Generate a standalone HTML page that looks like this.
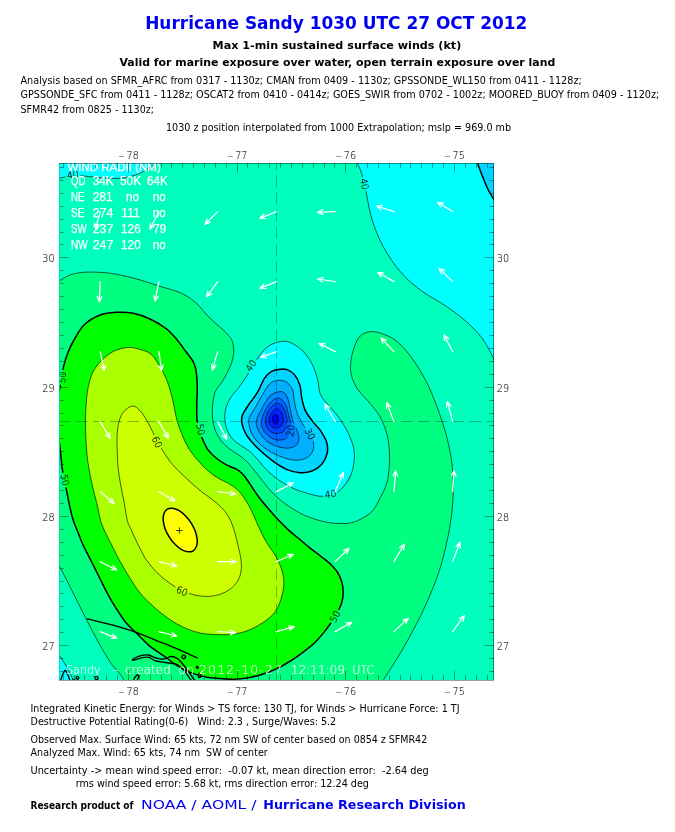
<!DOCTYPE html>
<html lang="en"><head><meta charset="utf-8"><title>Hurricane Sandy 1030 UTC 27 OCT 2012</title>
<style>html,body{margin:0;padding:0;background:#fff}svg{display:block}</style></head>
<body>
<svg width="675" height="832" viewBox="0 0 675 832">
<defs><clipPath id="pc"><rect x="59.6" y="163" width="434.4" height="517"/></clipPath></defs>
<rect x="0" y="0" width="675" height="832" fill="#fff"/>
<rect x="59" y="163" width="435" height="517" fill="#00ffbc"/>
<g clip-path="url(#pc)">
<path d="M52.0 179.5C53.2 179.3 57.1 178.9 59.4 178.4C61.7 177.9 63.5 177.2 65.7 176.7C67.9 176.2 70.1 175.7 72.8 175.5C75.5 175.3 77.3 175.5 81.7 175.8C86.1 176.2 93.5 177.2 99.4 177.6C105.3 178.0 112.2 178.6 117.2 178.4C122.2 178.2 125.8 177.6 129.7 176.7C133.5 175.8 137.1 174.6 140.3 173.1C143.6 171.6 146.5 169.4 149.2 167.8C151.9 166.2 154.2 164.8 156.3 163.3C158.4 161.8 161.1 159.7 162.0 159.0L52.0 150.0Z" fill="#00ffff"/>
<path d="M355.0 156.0C355.4 157.3 356.7 161.1 357.7 163.7C358.7 166.3 359.9 168.4 361.0 171.7C362.1 175.0 363.4 179.4 364.3 183.3C365.2 187.2 365.8 190.3 366.7 195.0C367.6 199.7 368.6 206.1 370.0 211.7C371.4 217.2 372.8 222.5 375.0 228.3C377.2 234.1 380.0 240.6 383.3 246.7C386.6 252.8 390.8 259.4 395.0 265.0C399.2 270.6 403.3 275.3 408.3 280.0C413.3 284.7 419.4 289.4 425.0 293.3C430.6 297.2 436.1 299.7 441.7 303.3C447.2 306.9 453.3 311.1 458.3 315.0C463.3 318.9 467.5 322.5 471.7 326.7C475.9 330.9 479.7 334.8 483.3 340.0C486.9 345.2 490.7 352.7 493.5 358.0C496.3 363.3 498.9 369.7 500.0 372.0L500.0 150.0Z" fill="#00ffff"/>
<path d="M52.0 643.0C53.2 645.0 56.5 651.0 59.0 655.0C61.5 659.0 64.3 662.5 66.7 666.7C69.1 670.9 71.6 676.5 73.3 680.0C75.0 683.5 76.4 686.7 77.0 688.0L52.0 688.0Z" fill="#00ffff"/>
<path d="M475.0 156.0C475.4 157.3 476.3 160.0 477.7 163.7C479.1 167.4 481.5 173.9 483.3 178.3C485.1 182.7 486.6 186.7 488.3 190.0C490.0 193.3 491.5 195.5 493.3 198.3C495.1 201.1 498.1 205.6 499.0 207.0L500.0 150.0Z" fill="#00d4ff"/>
<path d="M275.0 343.0C278.8 341.8 283.6 340.5 288.0 341.7C292.4 342.9 297.8 346.4 301.7 350.0C305.6 353.6 309.0 358.3 311.7 363.3C314.4 368.3 316.3 375.0 317.7 380.0C319.1 385.0 318.5 389.4 320.0 393.3C321.5 397.2 323.6 399.4 326.7 403.3C329.8 407.2 334.7 411.7 338.3 416.7C341.9 421.7 345.7 427.8 348.3 433.3C350.9 438.9 353.2 444.4 354.0 450.0C354.8 455.6 354.2 461.7 353.3 466.7C352.4 471.7 350.8 475.8 348.3 480.0C345.8 484.2 341.4 489.3 338.3 491.7C335.2 494.1 333.1 493.7 330.0 494.5C326.9 495.3 323.9 496.5 320.0 496.3C316.1 496.1 310.7 494.2 306.7 493.1C302.7 492.0 299.6 491.1 296.0 489.6C292.4 488.1 288.9 486.3 285.3 484.2C281.8 482.1 278.0 479.7 274.7 477.1C271.4 474.5 268.5 471.9 265.5 468.8C262.5 465.7 259.4 461.4 256.7 458.5C254.0 455.6 252.0 453.3 249.3 451.1C246.6 448.9 243.4 447.4 240.4 445.2C237.4 443.0 233.8 440.8 231.5 437.8C229.2 434.8 227.4 430.9 226.3 427.4C225.2 423.9 224.8 420.4 224.8 417.0C224.8 413.6 225.2 410.1 226.3 406.7C227.4 403.2 229.4 399.5 231.5 396.3C233.6 393.1 236.2 391.0 238.9 387.4C241.6 383.8 244.4 379.6 247.5 374.9C250.6 370.1 254.4 363.2 257.3 358.9C260.2 354.6 262.1 351.6 265.0 349.0C267.9 346.4 271.2 344.2 275.0 343.0Z" fill="#00ffff"/>
<path d="M280.4 369.2C277.7 369.4 274.3 369.8 271.6 371.3C268.9 372.8 266.8 374.8 264.4 378.4C262.0 382.0 260.0 388.2 257.3 392.7C254.6 397.1 250.9 401.2 248.4 405.1C245.9 409.0 243.2 412.5 242.2 415.8C241.2 419.1 241.4 421.4 242.2 424.7C242.9 427.9 244.2 431.4 246.7 435.3C249.2 439.2 253.2 443.7 257.3 447.8C261.5 451.9 266.9 456.6 271.6 460.2C276.4 463.8 281.1 467.0 285.8 469.1C290.5 471.2 295.6 472.4 300.0 472.7C304.4 473.0 308.7 472.4 312.4 470.9C316.1 469.4 319.7 466.8 322.2 463.8C324.7 460.8 326.4 456.7 327.2 453.1C327.9 449.5 327.7 445.9 326.7 442.4C325.7 438.8 323.7 435.4 321.3 431.8C318.9 428.2 315.1 424.7 312.4 421.1C309.7 417.5 307.1 414.2 305.3 410.4C303.5 406.5 302.7 402.1 301.8 398.0C300.9 393.9 301.2 389.5 300.0 385.6C298.8 381.8 296.8 377.5 294.7 374.9C292.6 372.3 290.0 370.8 287.6 369.9C285.2 368.9 283.1 369.0 280.4 369.2Z" fill="#00d4ff"/>
<path d="M278.7 380.2C275.7 380.4 272.5 381.4 269.8 383.8C267.1 386.2 265.1 390.5 262.7 394.4C260.3 398.2 257.8 403.0 255.6 406.9C253.4 410.8 250.4 414.4 249.3 417.6C248.2 420.9 248.6 423.1 249.3 426.4C250.1 429.6 251.3 433.5 253.8 437.1C256.3 440.7 260.2 444.7 264.4 447.8C268.5 450.9 273.6 453.7 278.7 455.8C283.8 457.9 290.0 459.9 294.7 460.2C299.4 460.5 304.0 459.4 307.1 457.6C310.2 455.8 312.4 452.7 313.3 449.6C314.2 446.5 313.7 442.5 312.4 438.9C311.1 435.3 307.7 432.0 305.3 428.2C302.9 424.4 300.0 419.9 298.2 415.8C296.4 411.7 295.6 407.5 294.7 403.3C293.8 399.1 294.1 394.3 292.9 390.9C291.7 387.5 290.0 384.7 287.6 382.9C285.2 381.1 281.7 380.0 278.7 380.2Z" fill="#00b0ff"/>
<path d="M278.7 391.8C276.3 392.4 272.8 393.1 269.8 396.2C266.8 399.3 263.1 406.2 260.9 410.4C258.7 414.5 256.8 417.8 256.4 421.1C255.9 424.4 256.6 426.7 258.2 430.0C259.8 433.3 262.8 437.9 266.2 440.7C269.6 443.5 274.5 445.7 278.7 446.9C282.9 448.1 287.9 448.6 291.1 447.8C294.4 447.1 297.0 444.8 298.2 442.4C299.4 440.0 299.1 437.2 298.2 433.6C297.3 430.1 294.2 425.2 292.9 421.1C291.6 417.0 291.1 412.6 290.2 408.7C289.3 404.8 288.6 400.7 287.6 398.0C286.6 395.3 285.5 393.7 284.0 392.7C282.5 391.7 281.1 391.2 278.7 391.8Z" fill="#008cff"/>
<path d="M277.8 398.0C275.3 398.0 272.2 400.6 269.8 403.3C267.4 406.0 265.0 410.7 263.6 414.0C262.2 417.3 261.3 419.9 261.4 422.9C261.5 425.9 262.4 429.1 264.4 431.8C266.4 434.5 270.3 437.6 273.3 438.9C276.3 440.2 279.5 440.4 282.2 439.8C284.9 439.2 287.8 437.5 289.3 435.3C290.8 433.1 291.2 429.9 291.1 426.4C291.0 422.8 289.4 417.9 288.4 414.0C287.4 410.1 286.7 406.0 284.9 403.3C283.1 400.6 280.3 398.0 277.8 398.0Z" fill="#0066ff"/>
<path d="M276.9 403.3C274.8 403.8 271.6 406.3 269.8 408.7C268.0 411.1 266.5 414.9 265.9 417.6C265.2 420.3 265.2 422.5 265.9 424.7C266.5 426.9 268.0 429.4 269.8 430.9C271.6 432.4 274.5 433.6 276.9 433.6C279.3 433.6 282.3 432.7 284.0 430.9C285.7 429.1 286.9 425.7 287.2 422.9C287.5 420.1 286.6 416.8 285.8 414.0C285.0 411.2 283.7 407.8 282.2 406.0C280.7 404.2 279.0 402.9 276.9 403.3Z" fill="#0044ff"/>
<path d="M276.5 408.7C274.9 408.9 272.9 411.2 271.6 413.1C270.3 415.0 269.0 418.1 268.9 420.2C268.8 422.3 269.5 424.3 270.7 425.6C271.9 426.9 274.2 428.2 276.0 428.2C277.8 428.2 280.1 427.1 281.3 425.6C282.6 424.1 283.5 421.5 283.5 419.3C283.5 417.1 282.5 414.0 281.3 412.2C280.1 410.4 278.1 408.5 276.5 408.7Z" fill="#0022ff"/>
<path d="M275.6 414.0C274.8 414.0 273.5 415.1 273.0 416.0C272.5 416.9 272.6 418.4 272.6 419.5C272.6 420.6 272.7 421.8 273.2 422.5C273.7 423.2 274.8 424.0 275.6 424.0C276.4 424.0 277.5 423.3 278.0 422.5C278.5 421.7 278.6 420.1 278.6 419.0C278.6 417.9 278.5 416.8 278.0 416.0C277.5 415.2 276.4 414.0 275.6 414.0Z" fill="#0000ff"/>
<path d="M50.0 285.0C51.5 284.3 55.7 282.7 59.0 281.0C62.3 279.3 66.0 276.4 70.0 275.0C74.0 273.6 78.3 272.8 83.3 272.3C88.3 271.9 94.4 272.0 100.0 272.3C105.6 272.6 110.6 273.2 116.7 274.3C122.8 275.4 129.5 277.0 136.7 279.0C143.9 281.0 153.9 284.4 160.0 286.3C166.1 288.2 169.8 289.1 173.5 290.3C177.2 291.5 179.2 292.2 182.0 293.6C184.8 295.0 187.6 296.4 190.4 298.4C193.2 300.4 196.2 303.0 198.8 305.6C201.4 308.2 203.4 311.2 206.0 314.0C208.6 316.8 211.6 319.8 214.4 322.4C217.2 325.0 220.3 327.1 222.9 329.6C225.5 332.1 228.4 335.0 230.1 337.4C231.8 339.8 232.5 341.5 233.1 344.0C233.7 346.5 233.9 349.5 233.7 352.5C233.5 355.5 232.9 358.8 231.9 362.0C230.9 365.2 229.4 368.3 227.7 371.7C226.0 375.1 223.8 379.1 221.7 382.5C219.6 385.9 216.7 387.9 215.2 391.9C213.7 395.9 212.9 401.8 212.5 406.7C212.1 411.6 212.4 417.3 213.0 421.5C213.6 425.7 214.6 428.7 215.9 431.9C217.2 435.1 219.0 438.0 221.1 440.7C223.2 443.4 225.8 445.9 228.5 448.1C231.2 450.3 234.9 452.4 237.4 454.1C239.9 455.8 241.3 456.8 243.3 458.5C245.3 460.2 247.1 461.9 249.3 464.4C251.5 466.9 254.2 470.2 256.7 473.3C259.1 476.4 261.1 479.3 264.0 482.8C266.9 486.3 270.4 491.0 274.0 494.5C277.6 498.0 281.6 501.1 285.3 503.8C289.0 506.5 292.4 508.8 296.0 510.9C299.6 513.0 302.7 514.6 306.7 516.2C310.7 517.8 315.3 519.5 320.0 520.7C324.7 521.9 329.7 523.0 335.0 523.3C340.3 523.6 346.7 523.8 351.7 522.7C356.7 521.6 361.4 518.8 365.0 516.7C368.6 514.6 370.8 513.1 373.3 510.0C375.8 506.9 377.8 502.8 380.0 498.3C382.2 493.9 385.1 488.6 386.7 483.3C388.2 478.0 388.9 472.2 389.3 466.7C389.7 461.1 389.7 455.6 389.3 450.0C388.9 444.4 388.2 438.9 386.7 433.3C385.1 427.8 382.8 421.7 380.0 416.7C377.2 411.7 373.6 407.8 370.0 403.3C366.4 398.9 361.4 394.4 358.3 390.0C355.2 385.6 353.0 381.1 351.7 376.7C350.4 372.2 350.4 367.8 350.7 363.3C351.0 358.9 352.0 354.2 353.3 350.0C354.6 345.8 356.4 341.1 358.3 338.3C360.2 335.5 362.5 334.1 365.0 333.0C367.5 331.9 370.3 331.5 373.3 331.7C376.3 331.9 379.4 332.6 383.0 334.0C386.6 335.4 390.8 336.8 395.0 340.0C399.2 343.2 403.9 347.8 408.3 353.3C412.8 358.9 417.8 366.6 421.7 373.3C425.6 380.0 428.4 385.5 431.7 393.3C435.0 401.1 438.9 411.7 441.7 420.0C444.5 428.3 446.5 435.5 448.3 443.3C450.1 451.1 451.5 459.5 452.3 466.7C453.1 473.9 453.3 480.0 453.3 486.7C453.3 493.4 452.9 501.1 452.4 507.0C451.9 512.9 451.2 517.1 450.5 522.0C449.8 526.9 449.6 529.3 448.0 536.5C446.4 543.7 443.9 555.7 441.0 565.3C438.1 574.9 434.5 584.4 430.5 594.0C426.5 603.6 421.9 613.3 417.0 623.0C412.1 632.7 406.5 642.6 401.0 652.0C395.5 661.4 387.8 673.0 383.8 679.3C379.8 685.6 378.1 688.2 377.0 690.0L118.0 690.0C118.9 688.3 124.8 684.5 123.6 680.0C122.4 675.5 115.1 669.4 111.0 663.3C106.9 657.2 103.0 650.5 99.0 643.3C95.0 636.1 91.5 629.4 86.7 620.0C81.9 610.6 74.6 595.9 70.0 586.7C65.4 577.5 62.3 571.5 59.0 565.0C55.7 558.5 51.5 550.8 50.0 548.0Z" fill="#00ff80"/>
<path d="M74.0 340.0C76.7 335.4 79.7 329.2 84.0 325.0C88.3 320.8 94.5 317.1 100.0 315.0C105.5 312.9 111.2 312.6 116.7 312.3C122.2 312.0 127.8 312.2 133.3 313.3C138.9 314.4 144.4 316.4 150.0 319.0C155.6 321.6 162.1 325.4 166.7 329.0C171.3 332.6 174.4 336.7 177.6 340.4C180.8 344.1 183.1 347.9 185.6 351.3C188.1 354.7 191.1 357.9 192.8 360.9C194.5 363.9 195.1 366.1 195.8 369.3C196.5 372.5 196.8 376.6 197.0 380.0C197.2 383.4 197.3 386.3 197.3 390.0C197.3 393.7 196.9 397.0 196.8 402.0C196.8 407.0 196.6 415.2 197.0 420.0C197.4 424.8 198.6 427.8 199.5 431.0C200.4 434.2 201.2 436.2 202.6 439.3C204.0 442.4 205.5 446.4 207.8 449.6C210.2 452.8 213.5 455.9 216.7 458.5C219.9 461.1 223.8 463.5 227.0 465.2C230.2 466.9 233.4 467.5 235.9 468.9C238.4 470.2 239.9 471.3 241.9 473.3C243.9 475.3 245.9 478.0 247.8 480.7C249.7 483.4 251.3 486.3 253.5 489.5C255.7 492.7 258.1 496.3 261.0 500.0C263.9 503.7 268.2 508.5 271.1 511.8C274.0 515.1 275.2 516.7 278.2 519.8C281.2 522.9 285.3 527.1 288.9 530.4C292.5 533.6 296.1 536.3 299.6 539.3C303.2 542.3 306.7 545.4 310.2 548.2C313.7 551.0 317.3 553.5 320.5 556.0C323.7 558.5 326.8 560.6 329.5 563.2C332.2 565.8 334.9 568.4 337.0 571.5C339.1 574.6 340.8 578.6 341.8 582.0C342.8 585.4 343.2 588.5 343.2 592.0C343.2 595.5 342.9 599.0 341.6 603.0C340.3 607.0 337.4 612.5 335.5 616.0C333.6 619.5 332.0 621.5 330.0 624.3C328.0 627.1 326.1 629.6 323.7 632.6C321.3 635.6 318.2 639.2 315.4 642.0C312.6 644.8 309.9 647.0 307.1 649.2C304.3 651.4 301.6 653.4 298.8 655.4C296.0 657.4 293.3 659.3 290.5 661.0C287.7 662.7 285.0 664.3 282.2 665.8C279.4 667.3 276.7 668.8 273.9 670.0C271.1 671.2 268.4 672.3 265.6 673.3C262.8 674.3 259.7 675.1 257.3 675.8C254.9 676.4 253.9 676.7 251.1 677.2C248.3 677.7 243.8 678.4 240.7 678.7C237.6 679.1 235.8 679.3 232.4 679.3C229.0 679.3 224.3 679.0 220.0 678.6C215.7 678.2 211.3 678.1 206.6 677.2C201.9 676.3 196.8 675.0 192.0 673.1C187.2 671.2 182.3 668.8 177.5 665.8C172.7 662.8 167.8 658.8 163.0 655.4C158.2 652.0 153.0 648.9 148.5 645.1C144.0 641.3 139.8 636.4 136.0 632.6C132.2 628.8 129.4 627.0 125.6 622.2C121.8 617.4 116.4 608.8 113.2 603.6C110.0 598.4 108.4 595.2 106.2 591.1C104.0 587.0 102.3 583.2 100.3 579.3C98.3 575.3 96.4 571.3 94.4 567.4C92.4 563.5 90.4 559.5 88.4 555.6C86.4 551.7 84.3 547.7 82.5 543.7C80.7 539.8 79.3 535.8 77.8 531.9C76.3 528.0 74.6 524.7 73.3 520.5C72.0 516.3 70.9 511.8 69.8 506.9C68.7 502.0 67.5 495.5 66.6 490.9C65.7 486.2 65.0 482.9 64.2 479.0C63.5 475.1 62.8 472.6 62.1 467.8C61.5 463.0 60.9 455.1 60.3 450.0C59.7 444.9 59.1 441.2 58.6 437.0C58.1 432.8 57.5 429.5 57.3 425.0C57.1 420.5 57.1 414.7 57.3 410.0C57.5 405.3 57.8 400.8 58.3 397.0C58.8 393.2 59.2 391.9 60.0 387.0C60.8 382.1 62.0 373.4 63.3 367.6C64.6 361.9 66.2 357.1 68.0 352.5C69.8 347.9 71.3 344.6 74.0 340.0Z" fill="#00ff00"/>
<path d="M128.0 347.4C132.7 347.1 137.2 348.7 141.0 349.8C144.8 350.9 147.9 351.4 151.1 354.2C154.3 357.0 157.3 362.2 160.0 366.7C162.7 371.1 165.0 375.6 167.1 380.9C169.2 386.2 170.8 392.2 172.4 398.7C174.0 405.2 175.4 414.4 176.9 420.0C178.4 425.6 179.7 428.2 181.3 432.4C182.9 436.5 184.6 441.0 186.7 444.9C188.8 448.8 191.6 452.6 193.8 455.6C196.0 458.6 197.8 460.3 200.0 462.7C202.2 465.1 204.1 467.4 207.1 470.0C210.1 472.6 214.2 475.8 217.8 478.0C221.4 480.2 225.2 481.4 228.4 483.3C231.7 485.2 234.6 487.1 237.3 489.6C240.0 492.1 242.0 494.8 244.4 498.4C246.8 501.9 249.2 506.1 251.6 510.9C254.0 515.6 256.3 521.9 258.7 526.9C261.1 531.9 263.4 537.0 265.8 541.1C268.2 545.2 270.8 548.5 272.9 551.8C275.0 555.1 276.6 557.2 278.2 560.7C279.8 564.2 281.8 569.2 282.7 573.1C283.6 577.0 284.0 579.9 283.9 583.8C283.8 587.6 283.1 591.8 281.8 596.2C280.6 600.6 278.9 606.0 276.4 610.0C273.9 614.0 271.1 616.7 266.7 620.0C262.3 623.3 255.8 627.3 250.0 629.7C244.2 632.1 238.6 633.5 232.0 634.3C225.4 635.1 216.3 634.6 210.7 634.3C205.1 634.0 202.8 633.8 198.3 632.6C193.8 631.5 188.5 629.6 183.7 627.4C178.8 625.1 174.0 622.4 169.2 619.1C164.4 615.8 159.5 612.0 154.7 607.7C149.9 603.4 144.3 598.1 140.2 593.2C136.1 588.3 132.8 582.6 129.9 578.1C127.0 573.6 125.0 570.0 122.8 566.2C120.6 562.5 118.9 559.4 116.9 555.6C114.9 551.9 113.0 547.7 111.0 543.7C109.0 539.8 106.7 535.8 105.0 531.9C103.3 528.0 102.0 525.3 100.6 520.5C99.2 515.7 98.2 509.1 96.8 503.3C95.4 497.5 93.6 491.5 92.3 485.6C91.0 479.7 89.8 473.7 88.8 467.8C87.8 461.9 87.2 457.8 86.6 450.0C86.0 442.2 85.3 430.4 85.4 421.0C85.5 411.6 86.3 400.5 87.2 393.3C88.1 386.1 89.4 382.0 90.6 378.0C91.8 374.0 92.6 372.2 94.4 369.3C96.2 366.4 98.5 363.3 101.6 360.4C104.7 357.4 108.6 353.8 113.0 351.6C117.4 349.4 123.3 347.7 128.0 347.4Z" fill="#aaff00"/>
<path d="M132.4 406.1C135.3 405.8 137.9 408.5 140.4 411.1C142.9 413.7 145.5 418.2 147.6 421.8C149.7 425.4 151.3 429.1 152.9 432.4C154.5 435.6 155.5 438.0 157.3 441.3C159.1 444.6 161.1 448.1 163.6 452.0C166.1 455.9 168.6 459.9 172.4 464.4C176.2 468.8 182.1 474.4 186.7 478.7C191.3 483.0 196.0 487.1 200.0 490.4C204.0 493.7 207.1 495.6 210.7 498.4C214.2 501.2 218.2 504.0 221.3 507.3C224.4 510.6 227.1 513.9 229.3 518.0C231.5 522.1 233.2 527.5 234.7 532.2C236.2 536.9 237.2 542.0 238.2 546.4C239.2 550.8 240.4 555.0 240.9 558.9C241.4 562.8 241.6 566.0 241.2 569.6C240.8 573.2 240.0 577.0 238.2 580.2C236.4 583.5 233.3 586.7 230.2 589.1C227.1 591.5 223.2 593.2 219.6 594.4C216.0 595.6 212.5 596.2 208.6 596.4C204.7 596.5 200.6 596.2 196.2 595.3C191.8 594.3 186.8 592.8 182.3 590.7C177.8 588.6 173.4 585.8 169.2 582.8C164.9 579.8 160.6 576.2 156.8 572.4C153.0 568.6 149.2 564.0 146.4 560.0C143.6 556.0 141.8 551.7 140.0 548.4C138.2 545.1 137.4 543.2 135.9 540.1C134.4 537.0 132.5 532.8 131.1 529.5C129.7 526.2 128.4 524.9 127.3 520.5C126.2 516.1 125.4 509.1 124.3 503.3C123.2 497.5 121.8 491.5 120.8 485.6C119.8 479.7 118.7 473.7 118.1 467.8C117.5 461.9 117.4 454.7 117.2 450.0C117.0 445.3 116.8 443.7 117.0 439.6C117.2 435.5 117.2 429.8 118.2 425.3C119.2 420.9 120.3 416.1 122.7 412.9C125.1 409.7 129.5 406.4 132.4 406.1Z" fill="#ccff00"/>
<path d="M193.2 550.8C191.8 551.7 189.9 552.0 188.0 551.8C186.0 551.6 183.8 550.8 181.6 549.6C179.4 548.3 177.1 546.4 175.0 544.3C172.9 542.2 170.8 539.5 169.2 536.9C167.5 534.2 166.0 531.2 165.0 528.4C164.1 525.6 163.4 522.7 163.2 520.2C163.0 517.7 163.3 515.3 164.0 513.4C164.7 511.6 165.8 510.1 167.2 509.2C168.6 508.3 170.5 508.0 172.4 508.2C174.4 508.4 176.6 509.2 178.8 510.4C181.0 511.7 183.3 513.6 185.4 515.7C187.5 517.8 189.6 520.5 191.2 523.1C192.9 525.8 194.4 528.8 195.4 531.6C196.3 534.4 197.0 537.3 197.2 539.8C197.4 542.3 197.1 544.7 196.4 546.6C195.7 548.4 194.6 549.9 193.2 550.8Z" fill="#ffff00"/>
<mask id="lm" maskUnits="userSpaceOnUse" x="0" y="0" width="675" height="832"><rect x="0" y="0" width="675" height="832" fill="#fff"/>
<rect x="-7.5" y="-5" width="15" height="10" fill="#000" transform="translate(364.5 184.0) rotate(80)"/>
<rect x="-7.5" y="-5" width="15" height="10" fill="#000" transform="translate(251.0 365.5) rotate(-55)"/>
<rect x="-7.5" y="-5" width="15" height="10" fill="#000" transform="translate(330.5 494.0) rotate(-8)"/>
<rect x="-7.5" y="-5" width="15" height="10" fill="#000" transform="translate(310.0 434.0) rotate(62)"/>
<rect x="-7.5" y="-5" width="15" height="10" fill="#000" transform="translate(290.5 430.5) rotate(-82)"/>
<rect x="-7.5" y="-5" width="15" height="10" fill="#000" transform="translate(200.5 429.5) rotate(80)"/>
<rect x="-7.5" y="-5" width="15" height="10" fill="#000" transform="translate(62.2 377.5) rotate(-84)"/>
<rect x="-7.5" y="-5" width="15" height="10" fill="#000" transform="translate(65.0 480.0) rotate(80)"/>
<rect x="-7.5" y="-5" width="15" height="10" fill="#000" transform="translate(335.0 616.5) rotate(-62)"/>
<rect x="-7.5" y="-5" width="15" height="10" fill="#000" transform="translate(157.0 442.0) rotate(65)"/>
<rect x="-7.5" y="-5" width="15" height="10" fill="#000" transform="translate(182.0 591.0) rotate(22)"/>
<rect x="-7.5" y="-5" width="15" height="10" fill="#000" transform="translate(72.8 174.5) rotate(-8)"/>
</mask>
<g mask="url(#lm)">
<path d="M52.0 179.5C53.2 179.3 57.1 178.9 59.4 178.4C61.7 177.9 63.5 177.2 65.7 176.7C67.9 176.2 70.1 175.7 72.8 175.5C75.5 175.3 77.3 175.5 81.7 175.8C86.1 176.2 93.5 177.2 99.4 177.6C105.3 178.0 112.2 178.6 117.2 178.4C122.2 178.2 125.8 177.6 129.7 176.7C133.5 175.8 137.1 174.6 140.3 173.1C143.6 171.6 146.5 169.4 149.2 167.8C151.9 166.2 154.2 164.8 156.3 163.3C158.4 161.8 161.1 159.7 162.0 159.0" fill="none" stroke="#000" stroke-width="0.8" stroke-opacity="0.8"/>
<path d="M355.0 156.0C355.4 157.3 356.7 161.1 357.7 163.7C358.7 166.3 359.9 168.4 361.0 171.7C362.1 175.0 363.4 179.4 364.3 183.3C365.2 187.2 365.8 190.3 366.7 195.0C367.6 199.7 368.6 206.1 370.0 211.7C371.4 217.2 372.8 222.5 375.0 228.3C377.2 234.1 380.0 240.6 383.3 246.7C386.6 252.8 390.8 259.4 395.0 265.0C399.2 270.6 403.3 275.3 408.3 280.0C413.3 284.7 419.4 289.4 425.0 293.3C430.6 297.2 436.1 299.7 441.7 303.3C447.2 306.9 453.3 311.1 458.3 315.0C463.3 318.9 467.5 322.5 471.7 326.7C475.9 330.9 479.7 334.8 483.3 340.0C486.9 345.2 490.7 352.7 493.5 358.0C496.3 363.3 498.9 369.7 500.0 372.0" fill="none" stroke="#000" stroke-width="0.8" stroke-opacity="0.8"/>
<path d="M52.0 643.0C53.2 645.0 56.5 651.0 59.0 655.0C61.5 659.0 64.3 662.5 66.7 666.7C69.1 670.9 71.6 676.5 73.3 680.0C75.0 683.5 76.4 686.7 77.0 688.0" fill="none" stroke="#000" stroke-width="0.8" stroke-opacity="0.8"/>
<path d="M475.0 156.0C475.4 157.3 476.3 160.0 477.7 163.7C479.1 167.4 481.5 173.9 483.3 178.3C485.1 182.7 486.6 186.7 488.3 190.0C490.0 193.3 491.5 195.5 493.3 198.3C495.1 201.1 498.1 205.6 499.0 207.0" fill="none" stroke="#000" stroke-width="1.5" stroke-linejoin="round"/>
<path d="M275.0 343.0C278.8 341.8 283.6 340.5 288.0 341.7C292.4 342.9 297.8 346.4 301.7 350.0C305.6 353.6 309.0 358.3 311.7 363.3C314.4 368.3 316.3 375.0 317.7 380.0C319.1 385.0 318.5 389.4 320.0 393.3C321.5 397.2 323.6 399.4 326.7 403.3C329.8 407.2 334.7 411.7 338.3 416.7C341.9 421.7 345.7 427.8 348.3 433.3C350.9 438.9 353.2 444.4 354.0 450.0C354.8 455.6 354.2 461.7 353.3 466.7C352.4 471.7 350.8 475.8 348.3 480.0C345.8 484.2 341.4 489.3 338.3 491.7C335.2 494.1 333.1 493.7 330.0 494.5C326.9 495.3 323.9 496.5 320.0 496.3C316.1 496.1 310.7 494.2 306.7 493.1C302.7 492.0 299.6 491.1 296.0 489.6C292.4 488.1 288.9 486.3 285.3 484.2C281.8 482.1 278.0 479.7 274.7 477.1C271.4 474.5 268.5 471.9 265.5 468.8C262.5 465.7 259.4 461.4 256.7 458.5C254.0 455.6 252.0 453.3 249.3 451.1C246.6 448.9 243.4 447.4 240.4 445.2C237.4 443.0 233.8 440.8 231.5 437.8C229.2 434.8 227.4 430.9 226.3 427.4C225.2 423.9 224.8 420.4 224.8 417.0C224.8 413.6 225.2 410.1 226.3 406.7C227.4 403.2 229.4 399.5 231.5 396.3C233.6 393.1 236.2 391.0 238.9 387.4C241.6 383.8 244.4 379.6 247.5 374.9C250.6 370.1 254.4 363.2 257.3 358.9C260.2 354.6 262.1 351.6 265.0 349.0C267.9 346.4 271.2 344.2 275.0 343.0Z" fill="none" stroke="#000" stroke-width="0.8" stroke-opacity="0.8"/>
<path d="M280.4 369.2C277.7 369.4 274.3 369.8 271.6 371.3C268.9 372.8 266.8 374.8 264.4 378.4C262.0 382.0 260.0 388.2 257.3 392.7C254.6 397.1 250.9 401.2 248.4 405.1C245.9 409.0 243.2 412.5 242.2 415.8C241.2 419.1 241.4 421.4 242.2 424.7C242.9 427.9 244.2 431.4 246.7 435.3C249.2 439.2 253.2 443.7 257.3 447.8C261.5 451.9 266.9 456.6 271.6 460.2C276.4 463.8 281.1 467.0 285.8 469.1C290.5 471.2 295.6 472.4 300.0 472.7C304.4 473.0 308.7 472.4 312.4 470.9C316.1 469.4 319.7 466.8 322.2 463.8C324.7 460.8 326.4 456.7 327.2 453.1C327.9 449.5 327.7 445.9 326.7 442.4C325.7 438.8 323.7 435.4 321.3 431.8C318.9 428.2 315.1 424.7 312.4 421.1C309.7 417.5 307.1 414.2 305.3 410.4C303.5 406.5 302.7 402.1 301.8 398.0C300.9 393.9 301.2 389.5 300.0 385.6C298.8 381.8 296.8 377.5 294.7 374.9C292.6 372.3 290.0 370.8 287.6 369.9C285.2 368.9 283.1 369.0 280.4 369.2Z" fill="none" stroke="#000" stroke-width="1.5" stroke-linejoin="round"/>
<path d="M278.7 380.2C275.7 380.4 272.5 381.4 269.8 383.8C267.1 386.2 265.1 390.5 262.7 394.4C260.3 398.2 257.8 403.0 255.6 406.9C253.4 410.8 250.4 414.4 249.3 417.6C248.2 420.9 248.6 423.1 249.3 426.4C250.1 429.6 251.3 433.5 253.8 437.1C256.3 440.7 260.2 444.7 264.4 447.8C268.5 450.9 273.6 453.7 278.7 455.8C283.8 457.9 290.0 459.9 294.7 460.2C299.4 460.5 304.0 459.4 307.1 457.6C310.2 455.8 312.4 452.7 313.3 449.6C314.2 446.5 313.7 442.5 312.4 438.9C311.1 435.3 307.7 432.0 305.3 428.2C302.9 424.4 300.0 419.9 298.2 415.8C296.4 411.7 295.6 407.5 294.7 403.3C293.8 399.1 294.1 394.3 292.9 390.9C291.7 387.5 290.0 384.7 287.6 382.9C285.2 381.1 281.7 380.0 278.7 380.2Z" fill="none" stroke="#000" stroke-width="0.8" stroke-opacity="0.8"/>
<path d="M278.7 391.8C276.3 392.4 272.8 393.1 269.8 396.2C266.8 399.3 263.1 406.2 260.9 410.4C258.7 414.5 256.8 417.8 256.4 421.1C255.9 424.4 256.6 426.7 258.2 430.0C259.8 433.3 262.8 437.9 266.2 440.7C269.6 443.5 274.5 445.7 278.7 446.9C282.9 448.1 287.9 448.6 291.1 447.8C294.4 447.1 297.0 444.8 298.2 442.4C299.4 440.0 299.1 437.2 298.2 433.6C297.3 430.1 294.2 425.2 292.9 421.1C291.6 417.0 291.1 412.6 290.2 408.7C289.3 404.8 288.6 400.7 287.6 398.0C286.6 395.3 285.5 393.7 284.0 392.7C282.5 391.7 281.1 391.2 278.7 391.8Z" fill="none" stroke="#000" stroke-width="0.8" stroke-opacity="0.8"/>
<path d="M277.8 398.0C275.3 398.0 272.2 400.6 269.8 403.3C267.4 406.0 265.0 410.7 263.6 414.0C262.2 417.3 261.3 419.9 261.4 422.9C261.5 425.9 262.4 429.1 264.4 431.8C266.4 434.5 270.3 437.6 273.3 438.9C276.3 440.2 279.5 440.4 282.2 439.8C284.9 439.2 287.8 437.5 289.3 435.3C290.8 433.1 291.2 429.9 291.1 426.4C291.0 422.8 289.4 417.9 288.4 414.0C287.4 410.1 286.7 406.0 284.9 403.3C283.1 400.6 280.3 398.0 277.8 398.0Z" fill="none" stroke="#000" stroke-width="0.8" stroke-opacity="0.8"/>
<path d="M276.9 403.3C274.8 403.8 271.6 406.3 269.8 408.7C268.0 411.1 266.5 414.9 265.9 417.6C265.2 420.3 265.2 422.5 265.9 424.7C266.5 426.9 268.0 429.4 269.8 430.9C271.6 432.4 274.5 433.6 276.9 433.6C279.3 433.6 282.3 432.7 284.0 430.9C285.7 429.1 286.9 425.7 287.2 422.9C287.5 420.1 286.6 416.8 285.8 414.0C285.0 411.2 283.7 407.8 282.2 406.0C280.7 404.2 279.0 402.9 276.9 403.3Z" fill="none" stroke="#000" stroke-width="0.8" stroke-opacity="0.8"/>
<path d="M276.5 408.7C274.9 408.9 272.9 411.2 271.6 413.1C270.3 415.0 269.0 418.1 268.9 420.2C268.8 422.3 269.5 424.3 270.7 425.6C271.9 426.9 274.2 428.2 276.0 428.2C277.8 428.2 280.1 427.1 281.3 425.6C282.6 424.1 283.5 421.5 283.5 419.3C283.5 417.1 282.5 414.0 281.3 412.2C280.1 410.4 278.1 408.5 276.5 408.7Z" fill="none" stroke="#000" stroke-width="0.8" stroke-opacity="0.8"/>
<path d="M275.6 414.0C274.8 414.0 273.5 415.1 273.0 416.0C272.5 416.9 272.6 418.4 272.6 419.5C272.6 420.6 272.7 421.8 273.2 422.5C273.7 423.2 274.8 424.0 275.6 424.0C276.4 424.0 277.5 423.3 278.0 422.5C278.5 421.7 278.6 420.1 278.6 419.0C278.6 417.9 278.5 416.8 278.0 416.0C277.5 415.2 276.4 414.0 275.6 414.0Z" fill="none" stroke="#000" stroke-width="0.8" stroke-opacity="0.8"/>
<path d="M50.0 285.0C51.5 284.3 55.7 282.7 59.0 281.0C62.3 279.3 66.0 276.4 70.0 275.0C74.0 273.6 78.3 272.8 83.3 272.3C88.3 271.9 94.4 272.0 100.0 272.3C105.6 272.6 110.6 273.2 116.7 274.3C122.8 275.4 129.5 277.0 136.7 279.0C143.9 281.0 153.9 284.4 160.0 286.3C166.1 288.2 169.8 289.1 173.5 290.3C177.2 291.5 179.2 292.2 182.0 293.6C184.8 295.0 187.6 296.4 190.4 298.4C193.2 300.4 196.2 303.0 198.8 305.6C201.4 308.2 203.4 311.2 206.0 314.0C208.6 316.8 211.6 319.8 214.4 322.4C217.2 325.0 220.3 327.1 222.9 329.6C225.5 332.1 228.4 335.0 230.1 337.4C231.8 339.8 232.5 341.5 233.1 344.0C233.7 346.5 233.9 349.5 233.7 352.5C233.5 355.5 232.9 358.8 231.9 362.0C230.9 365.2 229.4 368.3 227.7 371.7C226.0 375.1 223.8 379.1 221.7 382.5C219.6 385.9 216.7 387.9 215.2 391.9C213.7 395.9 212.9 401.8 212.5 406.7C212.1 411.6 212.4 417.3 213.0 421.5C213.6 425.7 214.6 428.7 215.9 431.9C217.2 435.1 219.0 438.0 221.1 440.7C223.2 443.4 225.8 445.9 228.5 448.1C231.2 450.3 234.9 452.4 237.4 454.1C239.9 455.8 241.3 456.8 243.3 458.5C245.3 460.2 247.1 461.9 249.3 464.4C251.5 466.9 254.2 470.2 256.7 473.3C259.1 476.4 261.1 479.3 264.0 482.8C266.9 486.3 270.4 491.0 274.0 494.5C277.6 498.0 281.6 501.1 285.3 503.8C289.0 506.5 292.4 508.8 296.0 510.9C299.6 513.0 302.7 514.6 306.7 516.2C310.7 517.8 315.3 519.5 320.0 520.7C324.7 521.9 329.7 523.0 335.0 523.3C340.3 523.6 346.7 523.8 351.7 522.7C356.7 521.6 361.4 518.8 365.0 516.7C368.6 514.6 370.8 513.1 373.3 510.0C375.8 506.9 377.8 502.8 380.0 498.3C382.2 493.9 385.1 488.6 386.7 483.3C388.2 478.0 388.9 472.2 389.3 466.7C389.7 461.1 389.7 455.6 389.3 450.0C388.9 444.4 388.2 438.9 386.7 433.3C385.1 427.8 382.8 421.7 380.0 416.7C377.2 411.7 373.6 407.8 370.0 403.3C366.4 398.9 361.4 394.4 358.3 390.0C355.2 385.6 353.0 381.1 351.7 376.7C350.4 372.2 350.4 367.8 350.7 363.3C351.0 358.9 352.0 354.2 353.3 350.0C354.6 345.8 356.4 341.1 358.3 338.3C360.2 335.5 362.5 334.1 365.0 333.0C367.5 331.9 370.3 331.5 373.3 331.7C376.3 331.9 379.4 332.6 383.0 334.0C386.6 335.4 390.8 336.8 395.0 340.0C399.2 343.2 403.9 347.8 408.3 353.3C412.8 358.9 417.8 366.6 421.7 373.3C425.6 380.0 428.4 385.5 431.7 393.3C435.0 401.1 438.9 411.7 441.7 420.0C444.5 428.3 446.5 435.5 448.3 443.3C450.1 451.1 451.5 459.5 452.3 466.7C453.1 473.9 453.3 480.0 453.3 486.7C453.3 493.4 452.9 501.1 452.4 507.0C451.9 512.9 451.2 517.1 450.5 522.0C449.8 526.9 449.6 529.3 448.0 536.5C446.4 543.7 443.9 555.7 441.0 565.3C438.1 574.9 434.5 584.4 430.5 594.0C426.5 603.6 421.9 613.3 417.0 623.0C412.1 632.7 406.5 642.6 401.0 652.0C395.5 661.4 387.8 673.0 383.8 679.3C379.8 685.6 378.1 688.2 377.0 690.0" fill="none" stroke="#000" stroke-width="0.8" stroke-opacity="0.8"/>
<path d="M118.0 690.0C118.9 688.3 124.8 684.5 123.6 680.0C122.4 675.5 115.1 669.4 111.0 663.3C106.9 657.2 103.0 650.5 99.0 643.3C95.0 636.1 91.5 629.4 86.7 620.0C81.9 610.6 74.6 595.9 70.0 586.7C65.4 577.5 62.3 571.5 59.0 565.0C55.7 558.5 51.5 550.8 50.0 548.0" fill="none" stroke="#000" stroke-width="0.8" stroke-opacity="0.8"/>
<path d="M74.0 340.0C76.7 335.4 79.7 329.2 84.0 325.0C88.3 320.8 94.5 317.1 100.0 315.0C105.5 312.9 111.2 312.6 116.7 312.3C122.2 312.0 127.8 312.2 133.3 313.3C138.9 314.4 144.4 316.4 150.0 319.0C155.6 321.6 162.1 325.4 166.7 329.0C171.3 332.6 174.4 336.7 177.6 340.4C180.8 344.1 183.1 347.9 185.6 351.3C188.1 354.7 191.1 357.9 192.8 360.9C194.5 363.9 195.1 366.1 195.8 369.3C196.5 372.5 196.8 376.6 197.0 380.0C197.2 383.4 197.3 386.3 197.3 390.0C197.3 393.7 196.9 397.0 196.8 402.0C196.8 407.0 196.6 415.2 197.0 420.0C197.4 424.8 198.6 427.8 199.5 431.0C200.4 434.2 201.2 436.2 202.6 439.3C204.0 442.4 205.5 446.4 207.8 449.6C210.2 452.8 213.5 455.9 216.7 458.5C219.9 461.1 223.8 463.5 227.0 465.2C230.2 466.9 233.4 467.5 235.9 468.9C238.4 470.2 239.9 471.3 241.9 473.3C243.9 475.3 245.9 478.0 247.8 480.7C249.7 483.4 251.3 486.3 253.5 489.5C255.7 492.7 258.1 496.3 261.0 500.0C263.9 503.7 268.2 508.5 271.1 511.8C274.0 515.1 275.2 516.7 278.2 519.8C281.2 522.9 285.3 527.1 288.9 530.4C292.5 533.6 296.1 536.3 299.6 539.3C303.2 542.3 306.7 545.4 310.2 548.2C313.7 551.0 317.3 553.5 320.5 556.0C323.7 558.5 326.8 560.6 329.5 563.2C332.2 565.8 334.9 568.4 337.0 571.5C339.1 574.6 340.8 578.6 341.8 582.0C342.8 585.4 343.2 588.5 343.2 592.0C343.2 595.5 342.9 599.0 341.6 603.0C340.3 607.0 337.4 612.5 335.5 616.0C333.6 619.5 332.0 621.5 330.0 624.3C328.0 627.1 326.1 629.6 323.7 632.6C321.3 635.6 318.2 639.2 315.4 642.0C312.6 644.8 309.9 647.0 307.1 649.2C304.3 651.4 301.6 653.4 298.8 655.4C296.0 657.4 293.3 659.3 290.5 661.0C287.7 662.7 285.0 664.3 282.2 665.8C279.4 667.3 276.7 668.8 273.9 670.0C271.1 671.2 268.4 672.3 265.6 673.3C262.8 674.3 259.7 675.1 257.3 675.8C254.9 676.4 253.9 676.7 251.1 677.2C248.3 677.7 243.8 678.4 240.7 678.7C237.6 679.1 235.8 679.3 232.4 679.3C229.0 679.3 224.3 679.0 220.0 678.6C215.7 678.2 211.3 678.1 206.6 677.2C201.9 676.3 196.8 675.0 192.0 673.1C187.2 671.2 182.3 668.8 177.5 665.8C172.7 662.8 167.8 658.8 163.0 655.4C158.2 652.0 153.0 648.9 148.5 645.1C144.0 641.3 139.8 636.4 136.0 632.6C132.2 628.8 129.4 627.0 125.6 622.2C121.8 617.4 116.4 608.8 113.2 603.6C110.0 598.4 108.4 595.2 106.2 591.1C104.0 587.0 102.3 583.2 100.3 579.3C98.3 575.3 96.4 571.3 94.4 567.4C92.4 563.5 90.4 559.5 88.4 555.6C86.4 551.7 84.3 547.7 82.5 543.7C80.7 539.8 79.3 535.8 77.8 531.9C76.3 528.0 74.6 524.7 73.3 520.5C72.0 516.3 70.9 511.8 69.8 506.9C68.7 502.0 67.5 495.5 66.6 490.9C65.7 486.2 65.0 482.9 64.2 479.0C63.5 475.1 62.8 472.6 62.1 467.8C61.5 463.0 60.9 455.1 60.3 450.0C59.7 444.9 59.1 441.2 58.6 437.0C58.1 432.8 57.5 429.5 57.3 425.0C57.1 420.5 57.1 414.7 57.3 410.0C57.5 405.3 57.8 400.8 58.3 397.0C58.8 393.2 59.2 391.9 60.0 387.0C60.8 382.1 62.0 373.4 63.3 367.6C64.6 361.9 66.2 357.1 68.0 352.5C69.8 347.9 71.3 344.6 74.0 340.0Z" fill="none" stroke="#000" stroke-width="1.5" stroke-linejoin="round"/>
<path d="M128.0 347.4C132.7 347.1 137.2 348.7 141.0 349.8C144.8 350.9 147.9 351.4 151.1 354.2C154.3 357.0 157.3 362.2 160.0 366.7C162.7 371.1 165.0 375.6 167.1 380.9C169.2 386.2 170.8 392.2 172.4 398.7C174.0 405.2 175.4 414.4 176.9 420.0C178.4 425.6 179.7 428.2 181.3 432.4C182.9 436.5 184.6 441.0 186.7 444.9C188.8 448.8 191.6 452.6 193.8 455.6C196.0 458.6 197.8 460.3 200.0 462.7C202.2 465.1 204.1 467.4 207.1 470.0C210.1 472.6 214.2 475.8 217.8 478.0C221.4 480.2 225.2 481.4 228.4 483.3C231.7 485.2 234.6 487.1 237.3 489.6C240.0 492.1 242.0 494.8 244.4 498.4C246.8 501.9 249.2 506.1 251.6 510.9C254.0 515.6 256.3 521.9 258.7 526.9C261.1 531.9 263.4 537.0 265.8 541.1C268.2 545.2 270.8 548.5 272.9 551.8C275.0 555.1 276.6 557.2 278.2 560.7C279.8 564.2 281.8 569.2 282.7 573.1C283.6 577.0 284.0 579.9 283.9 583.8C283.8 587.6 283.1 591.8 281.8 596.2C280.6 600.6 278.9 606.0 276.4 610.0C273.9 614.0 271.1 616.7 266.7 620.0C262.3 623.3 255.8 627.3 250.0 629.7C244.2 632.1 238.6 633.5 232.0 634.3C225.4 635.1 216.3 634.6 210.7 634.3C205.1 634.0 202.8 633.8 198.3 632.6C193.8 631.5 188.5 629.6 183.7 627.4C178.8 625.1 174.0 622.4 169.2 619.1C164.4 615.8 159.5 612.0 154.7 607.7C149.9 603.4 144.3 598.1 140.2 593.2C136.1 588.3 132.8 582.6 129.9 578.1C127.0 573.6 125.0 570.0 122.8 566.2C120.6 562.5 118.9 559.4 116.9 555.6C114.9 551.9 113.0 547.7 111.0 543.7C109.0 539.8 106.7 535.8 105.0 531.9C103.3 528.0 102.0 525.3 100.6 520.5C99.2 515.7 98.2 509.1 96.8 503.3C95.4 497.5 93.6 491.5 92.3 485.6C91.0 479.7 89.8 473.7 88.8 467.8C87.8 461.9 87.2 457.8 86.6 450.0C86.0 442.2 85.3 430.4 85.4 421.0C85.5 411.6 86.3 400.5 87.2 393.3C88.1 386.1 89.4 382.0 90.6 378.0C91.8 374.0 92.6 372.2 94.4 369.3C96.2 366.4 98.5 363.3 101.6 360.4C104.7 357.4 108.6 353.8 113.0 351.6C117.4 349.4 123.3 347.7 128.0 347.4Z" fill="none" stroke="#000" stroke-width="0.8" stroke-opacity="0.8"/>
<path d="M132.4 406.1C135.3 405.8 137.9 408.5 140.4 411.1C142.9 413.7 145.5 418.2 147.6 421.8C149.7 425.4 151.3 429.1 152.9 432.4C154.5 435.6 155.5 438.0 157.3 441.3C159.1 444.6 161.1 448.1 163.6 452.0C166.1 455.9 168.6 459.9 172.4 464.4C176.2 468.8 182.1 474.4 186.7 478.7C191.3 483.0 196.0 487.1 200.0 490.4C204.0 493.7 207.1 495.6 210.7 498.4C214.2 501.2 218.2 504.0 221.3 507.3C224.4 510.6 227.1 513.9 229.3 518.0C231.5 522.1 233.2 527.5 234.7 532.2C236.2 536.9 237.2 542.0 238.2 546.4C239.2 550.8 240.4 555.0 240.9 558.9C241.4 562.8 241.6 566.0 241.2 569.6C240.8 573.2 240.0 577.0 238.2 580.2C236.4 583.5 233.3 586.7 230.2 589.1C227.1 591.5 223.2 593.2 219.6 594.4C216.0 595.6 212.5 596.2 208.6 596.4C204.7 596.5 200.6 596.2 196.2 595.3C191.8 594.3 186.8 592.8 182.3 590.7C177.8 588.6 173.4 585.8 169.2 582.8C164.9 579.8 160.6 576.2 156.8 572.4C153.0 568.6 149.2 564.0 146.4 560.0C143.6 556.0 141.8 551.7 140.0 548.4C138.2 545.1 137.4 543.2 135.9 540.1C134.4 537.0 132.5 532.8 131.1 529.5C129.7 526.2 128.4 524.9 127.3 520.5C126.2 516.1 125.4 509.1 124.3 503.3C123.2 497.5 121.8 491.5 120.8 485.6C119.8 479.7 118.7 473.7 118.1 467.8C117.5 461.9 117.4 454.7 117.2 450.0C117.0 445.3 116.8 443.7 117.0 439.6C117.2 435.5 117.2 429.8 118.2 425.3C119.2 420.9 120.3 416.1 122.7 412.9C125.1 409.7 129.5 406.4 132.4 406.1Z" fill="none" stroke="#000" stroke-width="0.8" stroke-opacity="0.8"/>
<path d="M193.2 550.8C191.8 551.7 189.9 552.0 188.0 551.8C186.0 551.6 183.8 550.8 181.6 549.6C179.4 548.3 177.1 546.4 175.0 544.3C172.9 542.2 170.8 539.5 169.2 536.9C167.5 534.2 166.0 531.2 165.0 528.4C164.1 525.6 163.4 522.7 163.2 520.2C163.0 517.7 163.3 515.3 164.0 513.4C164.7 511.6 165.8 510.1 167.2 509.2C168.6 508.3 170.5 508.0 172.4 508.2C174.4 508.4 176.6 509.2 178.8 510.4C181.0 511.7 183.3 513.6 185.4 515.7C187.5 517.8 189.6 520.5 191.2 523.1C192.9 525.8 194.4 528.8 195.4 531.6C196.3 534.4 197.0 537.3 197.2 539.8C197.4 542.3 197.1 544.7 196.4 546.6C195.7 548.4 194.6 549.9 193.2 550.8Z" fill="none" stroke="#000" stroke-width="1.5" stroke-linejoin="round"/>
</g>
<text transform="translate(364.5 184.0) rotate(80)" x="0" y="3.4" text-anchor="middle" textLength="11.5" lengthAdjust="spacingAndGlyphs" font-family="DejaVu Sans Light, Liberation Sans, sans-serif" font-size="9.5" fill="#000" stroke="#000" stroke-width="0.25" opacity="0.85">40</text>
<text transform="translate(251.0 365.5) rotate(-55)" x="0" y="3.4" text-anchor="middle" textLength="11.5" lengthAdjust="spacingAndGlyphs" font-family="DejaVu Sans Light, Liberation Sans, sans-serif" font-size="9.5" fill="#000" stroke="#000" stroke-width="0.25" opacity="0.85">40</text>
<text transform="translate(330.5 494.0) rotate(-8)" x="0" y="3.4" text-anchor="middle" textLength="11.5" lengthAdjust="spacingAndGlyphs" font-family="DejaVu Sans Light, Liberation Sans, sans-serif" font-size="9.5" fill="#000" stroke="#000" stroke-width="0.25" opacity="0.85">40</text>
<text transform="translate(310.0 434.0) rotate(62)" x="0" y="3.4" text-anchor="middle" textLength="11.5" lengthAdjust="spacingAndGlyphs" font-family="DejaVu Sans Light, Liberation Sans, sans-serif" font-size="9.5" fill="#000" stroke="#000" stroke-width="0.25" opacity="0.85">30</text>
<text transform="translate(290.5 430.5) rotate(-82)" x="0" y="3.4" text-anchor="middle" textLength="11.5" lengthAdjust="spacingAndGlyphs" font-family="DejaVu Sans Light, Liberation Sans, sans-serif" font-size="9.5" fill="#000" stroke="#000" stroke-width="0.25" opacity="0.85">20</text>
<text transform="translate(200.5 429.5) rotate(80)" x="0" y="3.4" text-anchor="middle" textLength="11.5" lengthAdjust="spacingAndGlyphs" font-family="DejaVu Sans Light, Liberation Sans, sans-serif" font-size="9.5" fill="#000" stroke="#000" stroke-width="0.25" opacity="0.85">50</text>
<text transform="translate(62.2 377.5) rotate(-84)" x="0" y="3.4" text-anchor="middle" textLength="11.5" lengthAdjust="spacingAndGlyphs" font-family="DejaVu Sans Light, Liberation Sans, sans-serif" font-size="9.5" fill="#000" stroke="#000" stroke-width="0.25" opacity="0.85">50</text>
<text transform="translate(65.0 480.0) rotate(80)" x="0" y="3.4" text-anchor="middle" textLength="11.5" lengthAdjust="spacingAndGlyphs" font-family="DejaVu Sans Light, Liberation Sans, sans-serif" font-size="9.5" fill="#000" stroke="#000" stroke-width="0.25" opacity="0.85">50</text>
<text transform="translate(335.0 616.5) rotate(-62)" x="0" y="3.4" text-anchor="middle" textLength="11.5" lengthAdjust="spacingAndGlyphs" font-family="DejaVu Sans Light, Liberation Sans, sans-serif" font-size="9.5" fill="#000" stroke="#000" stroke-width="0.25" opacity="0.85">50</text>
<text transform="translate(157.0 442.0) rotate(65)" x="0" y="3.4" text-anchor="middle" textLength="11.5" lengthAdjust="spacingAndGlyphs" font-family="DejaVu Sans Light, Liberation Sans, sans-serif" font-size="9.5" fill="#000" stroke="#000" stroke-width="0.25" opacity="0.85">60</text>
<text transform="translate(182.0 591.0) rotate(22)" x="0" y="3.4" text-anchor="middle" textLength="11.5" lengthAdjust="spacingAndGlyphs" font-family="DejaVu Sans Light, Liberation Sans, sans-serif" font-size="9.5" fill="#000" stroke="#000" stroke-width="0.25" opacity="0.85">60</text>
<text transform="translate(72.8 174.5) rotate(-8)" x="0" y="3.4" text-anchor="middle" textLength="11.5" lengthAdjust="spacingAndGlyphs" font-family="DejaVu Sans Light, Liberation Sans, sans-serif" font-size="9.5" fill="#000" stroke="#000" stroke-width="0.25" opacity="0.85">40</text>
<path d="M59 421.5 H494" stroke="#000" stroke-opacity="0.32" stroke-width="0.9" stroke-dasharray="11.6 5.5" fill="none"/>
<path d="M276.5 158.5 V680" stroke="#000" stroke-opacity="0.32" stroke-width="0.9" stroke-dasharray="11.6 5.5" fill="none"/>
<path d="M87.3 618.9C91.6 620.0 105.0 623.0 113.0 625.2C121.0 627.4 128.5 629.7 135.6 632.2C142.7 634.7 149.1 637.6 155.8 640.3C162.5 643.0 169.1 645.5 176.0 648.4C182.9 651.3 193.8 656.3 197.4 657.9" fill="none" stroke="#000" stroke-width="1.35" stroke-linejoin="round" stroke-linecap="round"/>
<path d="M132.9 659.2C133.9 658.5 137.6 656.6 140.2 655.9C142.8 655.2 146.1 654.7 148.5 655.0C150.9 655.3 152.3 656.8 154.7 657.5C157.1 658.2 160.2 659.4 163.0 659.2C165.8 659.0 168.9 656.6 171.3 656.5C173.7 656.4 175.8 657.6 177.5 658.6C179.2 659.6 180.3 661.2 181.7 662.7C183.1 664.2 184.4 666.1 185.8 667.9C187.2 669.7 188.8 672.0 190.0 673.7C191.2 675.4 192.1 676.9 193.1 678.3C194.1 679.7 196.3 681.7 196.0 682.0C195.7 682.3 192.4 681.2 191.0 680.0C189.6 678.8 188.8 676.8 187.5 675.0C186.2 673.2 185.2 671.2 183.5 669.5C181.8 667.8 179.5 665.8 177.5 664.8C175.5 663.8 173.7 663.8 171.3 663.3C168.9 662.8 165.8 662.5 163.0 662.1C160.2 661.7 157.0 661.4 154.7 660.6C152.4 659.8 151.2 657.8 149.0 657.3C146.8 656.8 144.0 657.3 141.5 657.8C139.0 658.3 135.4 660.0 134.0 660.2C132.6 660.4 131.9 659.9 132.9 659.2Z" fill="none" stroke="#000" stroke-width="1.35" stroke-linejoin="round" stroke-linecap="round"/>
<path d="M181.8 656.9C181.8 656.3 183.1 655.0 183.7 655.0C184.3 655.0 185.6 656.3 185.6 656.9C185.6 657.5 184.3 658.8 183.7 658.8C183.1 658.8 181.8 657.5 181.8 656.9Z" fill="none" stroke="#000" stroke-width="1.35" stroke-linejoin="round" stroke-linecap="round"/>
<path d="M196.4 667.3C196.4 667.0 197.1 666.5 197.4 666.5C197.7 666.5 198.2 667.3 198.2 667.6C198.2 667.9 197.5 668.5 197.2 668.4C196.9 668.3 196.4 667.6 196.4 667.3Z" fill="none" stroke="#000" stroke-width="1.35" stroke-linejoin="round" stroke-linecap="round"/>
<path d="M198.3 674.5C198.5 673.8 199.6 673.0 200.0 673.3C200.4 673.6 201.0 675.8 200.8 676.5C200.6 677.2 199.4 677.9 199.0 677.6C198.6 677.3 198.1 675.2 198.3 674.5Z" fill="none" stroke="#000" stroke-width="1.35" stroke-linejoin="round" stroke-linecap="round"/>
<path d="M60.5 681.0C60.8 680.0 61.7 676.8 62.5 675.0C63.3 673.2 64.4 670.5 65.3 670.5C66.2 670.5 67.2 673.2 68.0 675.0C68.8 676.8 69.7 680.0 70.0 681.0" fill="none" stroke="#000" stroke-width="1.35" stroke-linejoin="round" stroke-linecap="round"/>
<path d="M72.5 680.0C72.8 679.9 74.2 679.7 74.5 679.6" fill="none" stroke="#000" stroke-width="1.35" stroke-linejoin="round" stroke-linecap="round"/>
<path d="M76.0 677.8C76.0 677.3 76.9 676.4 77.4 676.4C77.9 676.4 78.8 677.3 78.8 677.8C78.8 678.3 77.9 679.2 77.4 679.2C76.9 679.2 76.0 678.3 76.0 677.8Z" fill="none" stroke="#000" stroke-width="1.35" stroke-linejoin="round" stroke-linecap="round"/>
<path d="M94.5 677.0C94.8 676.9 95.9 676.0 96.5 676.2C97.1 676.4 97.9 677.4 98.0 678.0C98.1 678.6 97.5 679.5 97.0 679.6C96.5 679.7 95.6 678.9 95.3 678.8" fill="none" stroke="#000" stroke-width="1.35" stroke-linejoin="round" stroke-linecap="round"/>
<path d="M133.5 680.0C133.8 679.4 134.8 677.3 135.5 676.5C136.2 675.7 136.9 675.1 137.5 675.0C138.1 674.9 138.8 675.2 138.8 676.0C138.8 676.8 137.6 679.3 137.3 680.0" fill="none" stroke="#000" stroke-width="1.35" stroke-linejoin="round" stroke-linecap="round"/>
<path d="M176.2 530.5 h6.4 M179.4 527.3 v6.4" stroke="#000" stroke-opacity="0.85" stroke-width="0.9" fill="none"/>
<path d="M100.2 211.6 L95.5 229.0M94.6 223.4 L95.5 229.0 L99.1 224.6M158.9 211.6 L150.0 229.0M150.3 223.3 L150.0 229.0 L154.4 225.4M217.7 211.6 L205.0 224.3M207.1 219.0 L205.0 224.3 L210.3 222.2M276.4 211.6 L260.0 218.3M263.9 214.2 L260.0 218.3 L265.7 218.5M335.2 211.6 L317.7 212.3M322.8 209.8 L317.7 212.3 L323.0 214.4M393.9 211.6 L376.7 206.0M382.4 205.4 L376.7 206.0 L380.9 209.8M452.7 211.6 L437.7 202.3M443.3 203.1 L437.7 202.3 L440.9 207.0M100.2 281.6 L99.3 301.7M97.2 296.4 L99.3 301.7 L101.8 296.6M158.9 281.6 L155.0 301.0M153.8 295.4 L155.0 301.0 L158.3 296.4M217.7 281.6 L206.7 296.7M207.9 291.1 L206.7 296.7 L211.6 293.9M276.4 281.6 L260.0 288.3M263.9 284.2 L260.0 288.3 L265.7 288.5M335.2 281.6 L317.7 279.0M323.2 277.5 L317.7 279.0 L322.5 282.0M393.9 281.6 L377.7 272.3M383.4 272.9 L377.7 272.3 L381.1 276.9M452.7 281.6 L439.0 268.3M444.3 270.3 L439.0 268.3 L441.1 273.6M100.2 351.6 L104.3 370.7M101.0 366.1 L104.3 370.7 L105.5 365.1M158.9 351.6 L161.7 370.7M158.7 365.9 L161.7 370.7 L163.2 365.2M217.7 351.6 L212.3 370.0M211.6 364.4 L212.3 370.0 L216.0 365.7M276.4 351.6 L260.7 357.3M264.8 353.4 L260.7 357.3 L266.4 357.7M335.2 351.6 L319.0 343.3M324.7 343.6 L319.0 343.3 L322.6 347.7M393.9 351.6 L381.0 338.0M386.3 340.2 L381.0 338.0 L382.9 343.4M452.7 351.6 L444.0 335.0M448.5 338.5 L444.0 335.0 L444.4 340.7M100.2 421.6 L110.0 438.3M105.4 435.0 L110.0 438.3 L109.4 432.7M158.9 421.6 L168.3 438.3M163.8 434.9 L168.3 438.3 L167.8 432.6M217.7 421.6 L226.7 439.3M222.3 435.7 L226.7 439.3 L226.4 433.6M335.2 421.6 L325.0 404.0M329.6 407.3 L325.0 404.0 L325.6 409.7M393.9 421.6 L386.7 402.7M390.7 406.7 L386.7 402.7 L386.4 408.4M452.7 421.6 L447.3 401.7M450.9 406.1 L447.3 401.7 L446.4 407.3M100.2 491.6 L114.0 503.3M108.5 501.7 L114.0 503.3 L111.5 498.2M158.9 491.6 L175.0 501.0M169.4 500.4 L175.0 501.0 L171.7 496.4M217.7 491.6 L235.7 494.0M230.2 495.6 L235.7 494.0 L230.8 491.0M276.4 491.6 L293.3 482.7M289.8 487.2 L293.3 482.7 L287.6 483.1M335.2 491.6 L343.3 472.7M343.4 478.4 L343.3 472.7 L339.1 476.6M393.9 491.6 L395.7 470.7M397.6 476.1 L395.7 470.7 L393.0 475.7M452.7 491.6 L454.0 470.7M456.0 476.0 L454.0 470.7 L451.4 475.7M100.2 561.6 L116.7 570.0M111.0 569.7 L116.7 570.0 L113.1 565.6M158.9 561.6 L176.7 566.0M171.1 567.0 L176.7 566.0 L172.2 562.5M217.7 561.6 L236.0 561.7M230.8 564.0 L236.0 561.7 L230.8 559.4M276.4 561.6 L293.3 554.3M289.4 558.5 L293.3 554.3 L287.6 554.3M335.2 561.6 L349.0 548.3M346.9 553.6 L349.0 548.3 L343.7 550.3M393.9 561.6 L404.3 544.3M403.6 549.9 L404.3 544.3 L399.7 547.6M452.7 561.6 L460.0 542.3M460.3 548.0 L460.0 542.3 L456.0 546.4M100.2 631.6 L116.7 638.3M111.0 638.5 L116.7 638.3 L112.7 634.2M158.9 631.6 L176.7 636.0M171.1 637.0 L176.7 636.0 L172.2 632.5M217.7 631.6 L235.7 632.7M230.4 634.7 L235.7 632.7 L230.6 630.1M276.4 631.6 L294.3 626.7M289.9 630.3 L294.3 626.7 L288.7 625.9M335.2 631.6 L351.7 622.3M348.3 626.9 L351.7 622.3 L346.0 622.8M393.9 631.6 L408.3 618.3M406.0 623.5 L408.3 618.3 L402.9 620.1M452.7 631.6 L464.3 615.7M463.1 621.3 L464.3 615.7 L459.4 618.5" fill="none" stroke="#fff" stroke-width="1.25" stroke-linecap="round" stroke-linejoin="round"/>
<path d="M63.5 163 v4.8 M63.5 680 v-4.8M74.5 163 v4.8 M74.5 680 v-4.8M84.5 163 v4.8 M84.5 680 v-4.8M95.5 163 v4.8 M95.5 680 v-4.8M106.5 163 v4.8 M106.5 680 v-4.8M117.5 163 v4.8 M117.5 680 v-4.8M128.5 163 v9.5 M128.5 680 v-9.5M139.5 163 v4.8 M139.5 680 v-4.8M150.5 163 v4.8 M150.5 680 v-4.8M161.5 163 v4.8 M161.5 680 v-4.8M171.5 163 v4.8 M171.5 680 v-4.8M182.5 163 v4.8 M182.5 680 v-4.8M193.5 163 v4.8 M193.5 680 v-4.8M204.5 163 v4.8 M204.5 680 v-4.8M215.5 163 v4.8 M215.5 680 v-4.8M226.5 163 v4.8 M226.5 680 v-4.8M237.5 163 v9.5 M237.5 680 v-9.5M247.5 163 v4.8 M247.5 680 v-4.8M258.5 163 v4.8 M258.5 680 v-4.8M269.5 163 v4.8 M269.5 680 v-4.8M280.5 163 v4.8 M280.5 680 v-4.8M291.5 163 v4.8 M291.5 680 v-4.8M302.5 163 v4.8 M302.5 680 v-4.8M313.5 163 v4.8 M313.5 680 v-4.8M324.5 163 v4.8 M324.5 680 v-4.8M334.5 163 v4.8 M334.5 680 v-4.8M345.5 163 v9.5 M345.5 680 v-9.5M356.5 163 v4.8 M356.5 680 v-4.8M367.5 163 v4.8 M367.5 680 v-4.8M378.5 163 v4.8 M378.5 680 v-4.8M389.5 163 v4.8 M389.5 680 v-4.8M400.5 163 v4.8 M400.5 680 v-4.8M410.5 163 v4.8 M410.5 680 v-4.8M421.5 163 v4.8 M421.5 680 v-4.8M432.5 163 v4.8 M432.5 680 v-4.8M443.5 163 v4.8 M443.5 680 v-4.8M454.5 163 v9.5 M454.5 680 v-9.5M465.5 163 v4.8 M465.5 680 v-4.8M476.5 163 v4.8 M476.5 680 v-4.8M487.5 163 v4.8 M487.5 680 v-4.8M59 167.5 h4.8 M494 167.5 h-4.8M59 180.5 h4.8 M494 180.5 h-4.8M59 193.5 h4.8 M494 193.5 h-4.8M59 206.5 h4.8 M494 206.5 h-4.8M59 219.5 h4.8 M494 219.5 h-4.8M59 232.5 h4.8 M494 232.5 h-4.8M59 244.5 h4.8 M494 244.5 h-4.8M59 257.5 h9.5 M494 257.5 h-9.5M59 270.5 h4.8 M494 270.5 h-4.8M59 283.5 h4.8 M494 283.5 h-4.8M59 296.5 h4.8 M494 296.5 h-4.8M59 309.5 h4.8 M494 309.5 h-4.8M59 322.5 h4.8 M494 322.5 h-4.8M59 335.5 h4.8 M494 335.5 h-4.8M59 348.5 h4.8 M494 348.5 h-4.8M59 361.5 h4.8 M494 361.5 h-4.8M59 374.5 h4.8 M494 374.5 h-4.8M59 387.5 h9.5 M494 387.5 h-9.5M59 400.5 h4.8 M494 400.5 h-4.8M59 413.5 h4.8 M494 413.5 h-4.8M59 425.5 h4.8 M494 425.5 h-4.8M59 438.5 h4.8 M494 438.5 h-4.8M59 451.5 h4.8 M494 451.5 h-4.8M59 464.5 h4.8 M494 464.5 h-4.8M59 477.5 h4.8 M494 477.5 h-4.8M59 490.5 h4.8 M494 490.5 h-4.8M59 503.5 h4.8 M494 503.5 h-4.8M59 516.5 h9.5 M494 516.5 h-9.5M59 529.5 h4.8 M494 529.5 h-4.8M59 542.5 h4.8 M494 542.5 h-4.8M59 555.5 h4.8 M494 555.5 h-4.8M59 568.5 h4.8 M494 568.5 h-4.8M59 581.5 h4.8 M494 581.5 h-4.8M59 593.5 h4.8 M494 593.5 h-4.8M59 606.5 h4.8 M494 606.5 h-4.8M59 619.5 h4.8 M494 619.5 h-4.8M59 632.5 h4.8 M494 632.5 h-4.8M59 645.5 h9.5 M494 645.5 h-9.5M59 658.5 h4.8 M494 658.5 h-4.8M59 671.5 h4.8 M494 671.5 h-4.8" fill="none" stroke="#000" stroke-opacity="0.38" stroke-width="1"/>
<text y="171.3" font-family="Liberation Sans, sans-serif" font-size="11.3" fill="#fff" stroke="#fff" stroke-width="0.25"><tspan x="67.4" textLength="93.4" lengthAdjust="spacingAndGlyphs">WIND RADII (NM)</tspan></text>
<text y="184.6" font-family="Liberation Sans, sans-serif" font-size="12" fill="#fff" stroke="#fff" stroke-width="0.25"><tspan x="71.1" textLength="14.5" lengthAdjust="spacingAndGlyphs">QD</tspan> <tspan x="92.7" textLength="21.1" lengthAdjust="spacingAndGlyphs">34K</tspan> <tspan x="120" textLength="21.1" lengthAdjust="spacingAndGlyphs">50K</tspan> <tspan x="147.1" textLength="20.7" lengthAdjust="spacingAndGlyphs">64K</tspan></text>
<text y="200.6" font-family="Liberation Sans, sans-serif" font-size="12" fill="#fff" stroke="#fff" stroke-width="0.25"><tspan x="71.1" textLength="13.3" lengthAdjust="spacingAndGlyphs">NE</tspan> <tspan x="92.7" textLength="20" lengthAdjust="spacingAndGlyphs">281</tspan> <tspan x="126" textLength="12.9" lengthAdjust="spacingAndGlyphs">no</tspan> <tspan x="152.7" textLength="12.9" lengthAdjust="spacingAndGlyphs">no</tspan></text>
<text y="216.6" font-family="Liberation Sans, sans-serif" font-size="12" fill="#fff" stroke="#fff" stroke-width="0.25"><tspan x="71.1" textLength="13.3" lengthAdjust="spacingAndGlyphs">SE</tspan> <tspan x="92.7" textLength="20.6" lengthAdjust="spacingAndGlyphs">274</tspan> <tspan x="121.1" textLength="18.9" lengthAdjust="spacingAndGlyphs">111</tspan> <tspan x="152.7" textLength="12.9" lengthAdjust="spacingAndGlyphs">no</tspan></text>
<text y="232.8" font-family="Liberation Sans, sans-serif" font-size="12" fill="#fff" stroke="#fff" stroke-width="0.25"><tspan x="71.1" textLength="15.6" lengthAdjust="spacingAndGlyphs">SW</tspan> <tspan x="92.7" textLength="20.6" lengthAdjust="spacingAndGlyphs">237</tspan> <tspan x="121.1" textLength="19.6" lengthAdjust="spacingAndGlyphs">126</tspan> <tspan x="153.3" textLength="12.7" lengthAdjust="spacingAndGlyphs">79</tspan></text>
<text y="248.8" font-family="Liberation Sans, sans-serif" font-size="12" fill="#fff" stroke="#fff" stroke-width="0.25"><tspan x="71.1" textLength="16.7" lengthAdjust="spacingAndGlyphs">NW</tspan> <tspan x="92.7" textLength="20.6" lengthAdjust="spacingAndGlyphs">247</tspan> <tspan x="121.1" textLength="19.6" lengthAdjust="spacingAndGlyphs">120</tspan> <tspan x="152.7" textLength="12.9" lengthAdjust="spacingAndGlyphs">no</tspan></text>
<text y="674.3" font-family="DejaVu Sans Light, DejaVu Sans, sans-serif" font-weight="200" font-size="12.3" fill="#fff" stroke="#fff" stroke-width="0.2" opacity="0.9"><tspan x="66" textLength="34.7" lengthAdjust="spacingAndGlyphs">Sandy</tspan> <tspan x="111.7" textLength="6.6" lengthAdjust="spacingAndGlyphs">-</tspan> <tspan x="125" textLength="45.7" lengthAdjust="spacing">created</tspan> <tspan x="178.3" textLength="15.7" lengthAdjust="spacingAndGlyphs">on</tspan> <tspan x="199" textLength="83" lengthAdjust="spacing">2012-10-27</tspan> <tspan x="290.7" textLength="54.3" lengthAdjust="spacing">12:11:09</tspan> <tspan x="352.3" textLength="22" lengthAdjust="spacingAndGlyphs">UTC</tspan></text>
</g>
<path d="M59.4 163 V680" fill="none" stroke="#00d0a8" stroke-width="0.8"/>
<path d="M59 163.5 H494 M493.5 163 V680" fill="none" stroke="#000" stroke-opacity="0.42" stroke-width="1"/>
<path d="M59 680.5 H494" fill="none" stroke="#000" stroke-opacity="0.38" stroke-width="1"/>
<text y="158.6" font-family="DejaVu Sans Light, Liberation Sans, sans-serif" font-size="10.5" fill="#222" stroke="#222" stroke-width="0.15"><tspan x="118.2" textLength="6.4" lengthAdjust="spacingAndGlyphs">-</tspan><tspan x="126.5" textLength="12.3" lengthAdjust="spacingAndGlyphs">78</tspan></text>
<text y="695.3" font-family="DejaVu Sans Light, Liberation Sans, sans-serif" font-size="10.5" fill="#222" stroke="#222" stroke-width="0.15"><tspan x="118.2" textLength="6.4" lengthAdjust="spacingAndGlyphs">-</tspan><tspan x="126.5" textLength="12.3" lengthAdjust="spacingAndGlyphs">78</tspan></text>
<text y="158.6" font-family="DejaVu Sans Light, Liberation Sans, sans-serif" font-size="10.5" fill="#222" stroke="#222" stroke-width="0.15"><tspan x="226.9" textLength="6.4" lengthAdjust="spacingAndGlyphs">-</tspan><tspan x="235.2" textLength="12.3" lengthAdjust="spacingAndGlyphs">77</tspan></text>
<text y="695.3" font-family="DejaVu Sans Light, Liberation Sans, sans-serif" font-size="10.5" fill="#222" stroke="#222" stroke-width="0.15"><tspan x="226.9" textLength="6.4" lengthAdjust="spacingAndGlyphs">-</tspan><tspan x="235.2" textLength="12.3" lengthAdjust="spacingAndGlyphs">77</tspan></text>
<text y="158.6" font-family="DejaVu Sans Light, Liberation Sans, sans-serif" font-size="10.5" fill="#222" stroke="#222" stroke-width="0.15"><tspan x="335.5" textLength="6.4" lengthAdjust="spacingAndGlyphs">-</tspan><tspan x="343.8" textLength="12.3" lengthAdjust="spacingAndGlyphs">76</tspan></text>
<text y="695.3" font-family="DejaVu Sans Light, Liberation Sans, sans-serif" font-size="10.5" fill="#222" stroke="#222" stroke-width="0.15"><tspan x="335.5" textLength="6.4" lengthAdjust="spacingAndGlyphs">-</tspan><tspan x="343.8" textLength="12.3" lengthAdjust="spacingAndGlyphs">76</tspan></text>
<text y="158.6" font-family="DejaVu Sans Light, Liberation Sans, sans-serif" font-size="10.5" fill="#222" stroke="#222" stroke-width="0.15"><tspan x="444.2" textLength="6.4" lengthAdjust="spacingAndGlyphs">-</tspan><tspan x="452.5" textLength="12.3" lengthAdjust="spacingAndGlyphs">75</tspan></text>
<text y="695.3" font-family="DejaVu Sans Light, Liberation Sans, sans-serif" font-size="10.5" fill="#222" stroke="#222" stroke-width="0.15"><tspan x="444.2" textLength="6.4" lengthAdjust="spacingAndGlyphs">-</tspan><tspan x="452.5" textLength="12.3" lengthAdjust="spacingAndGlyphs">75</tspan></text>
<text x="42.3" y="261.8" textLength="12.3" lengthAdjust="spacingAndGlyphs" font-family="DejaVu Sans Light, Liberation Sans, sans-serif" font-size="10.5" fill="#222" stroke="#222" stroke-width="0.15">30</text>
<text x="496.8" y="261.8" textLength="12.3" lengthAdjust="spacingAndGlyphs" font-family="DejaVu Sans Light, Liberation Sans, sans-serif" font-size="10.5" fill="#222" stroke="#222" stroke-width="0.15">30</text>
<text x="42.3" y="391.8" textLength="12.3" lengthAdjust="spacingAndGlyphs" font-family="DejaVu Sans Light, Liberation Sans, sans-serif" font-size="10.5" fill="#222" stroke="#222" stroke-width="0.15">29</text>
<text x="496.8" y="391.8" textLength="12.3" lengthAdjust="spacingAndGlyphs" font-family="DejaVu Sans Light, Liberation Sans, sans-serif" font-size="10.5" fill="#222" stroke="#222" stroke-width="0.15">29</text>
<text x="42.3" y="520.8" textLength="12.3" lengthAdjust="spacingAndGlyphs" font-family="DejaVu Sans Light, Liberation Sans, sans-serif" font-size="10.5" fill="#222" stroke="#222" stroke-width="0.15">28</text>
<text x="496.8" y="520.8" textLength="12.3" lengthAdjust="spacingAndGlyphs" font-family="DejaVu Sans Light, Liberation Sans, sans-serif" font-size="10.5" fill="#222" stroke="#222" stroke-width="0.15">28</text>
<text x="42.3" y="649.8" textLength="12.3" lengthAdjust="spacingAndGlyphs" font-family="DejaVu Sans Light, Liberation Sans, sans-serif" font-size="10.5" fill="#222" stroke="#222" stroke-width="0.15">27</text>
<text x="496.8" y="649.8" textLength="12.3" lengthAdjust="spacingAndGlyphs" font-family="DejaVu Sans Light, Liberation Sans, sans-serif" font-size="10.5" fill="#222" stroke="#222" stroke-width="0.15">27</text>
<text x="145.2" y="29.2" font-family="DejaVu Sans, Liberation Sans, sans-serif" font-size="17" fill="#0000f0" font-weight="bold" textLength="382.2" lengthAdjust="spacingAndGlyphs" xml:space="preserve">Hurricane Sandy 1030 UTC 27 OCT 2012</text>
<text x="212.6" y="48.6" font-family="DejaVu Sans, Liberation Sans, sans-serif" font-size="11.2" fill="#000" font-weight="bold" textLength="248.7" lengthAdjust="spacingAndGlyphs" xml:space="preserve">Max 1-min sustained surface winds (kt)</text>
<text x="119.4" y="65.7" font-family="DejaVu Sans, Liberation Sans, sans-serif" font-size="11.2" fill="#000" font-weight="bold" textLength="435.9" lengthAdjust="spacingAndGlyphs" xml:space="preserve">Valid for marine exposure over water, open terrain exposure over land</text>
<text x="20.5" y="83.5" font-family="DejaVu Sans, Liberation Sans, sans-serif" font-size="10" fill="#000" textLength="561.2" lengthAdjust="spacingAndGlyphs" xml:space="preserve">Analysis based on SFMR_AFRC from 0317 - 1130z; CMAN from 0409 - 1130z; GPSSONDE_WL150 from 0411 - 1128z;</text>
<text x="20.5" y="98.4" font-family="DejaVu Sans, Liberation Sans, sans-serif" font-size="10" fill="#000" textLength="638.8" lengthAdjust="spacingAndGlyphs" xml:space="preserve">GPSSONDE_SFC from 0411 - 1128z; OSCAT2 from 0410 - 0414z; GOES_SWIR from 0702 - 1002z; MOORED_BUOY from 0409 - 1120z;</text>
<text x="20.5" y="113.3" font-family="DejaVu Sans, Liberation Sans, sans-serif" font-size="10" fill="#000" textLength="133.5" lengthAdjust="spacingAndGlyphs" xml:space="preserve">SFMR42 from 0825 - 1130z;</text>
<text x="166" y="131.2" font-family="DejaVu Sans, Liberation Sans, sans-serif" font-size="10" fill="#000" textLength="345" lengthAdjust="spacingAndGlyphs" xml:space="preserve">1030 z position interpolated from 1000 Extrapolation; mslp = 969.0 mb</text>
<text x="30.5" y="711.6" font-family="DejaVu Sans, Liberation Sans, sans-serif" font-size="10" fill="#000" textLength="429" lengthAdjust="spacingAndGlyphs" xml:space="preserve">Integrated Kinetic Energy: for Winds &gt; TS force: 130 TJ, for Winds &gt; Hurricane Force: 1 TJ</text>
<text x="30.5" y="724.7" font-family="DejaVu Sans, Liberation Sans, sans-serif" font-size="10" fill="#000" textLength="305.7" lengthAdjust="spacingAndGlyphs" xml:space="preserve">Destructive Potential Rating(0-6)   Wind: 2.3 , Surge/Waves: 5.2</text>
<text x="30.5" y="742.7" font-family="DejaVu Sans, Liberation Sans, sans-serif" font-size="10" fill="#000" textLength="396.7" lengthAdjust="spacingAndGlyphs" xml:space="preserve">Observed Max. Surface Wind: 65 kts, 72 nm SW of center based on 0854 z SFMR42</text>
<text x="30.5" y="755.5" font-family="DejaVu Sans, Liberation Sans, sans-serif" font-size="10" fill="#000" textLength="237.3" lengthAdjust="spacingAndGlyphs" xml:space="preserve">Analyzed Max. Wind: 65 kts, 74 nm  SW of center</text>
<text x="30.5" y="773.8" font-family="DejaVu Sans, Liberation Sans, sans-serif" font-size="10" fill="#000" textLength="398.3" lengthAdjust="spacingAndGlyphs" xml:space="preserve">Uncertainty -&gt; mean wind speed error:  -0.07 kt, mean direction error:  -2.64 deg</text>
<text x="75.7" y="786.7" font-family="DejaVu Sans, Liberation Sans, sans-serif" font-size="10" fill="#000" textLength="293.3" lengthAdjust="spacingAndGlyphs" xml:space="preserve">rms wind speed error: 5.68 kt, rms direction error: 12.24 deg</text>
<text y="809.3" font-family="DejaVu Sans, Liberation Sans, sans-serif" fill="#0000f0"><tspan x="30.5" font-size="10" font-weight="bold" fill="#000" textLength="103" lengthAdjust="spacingAndGlyphs">Research product of</tspan> <tspan x="141" font-size="13" textLength="115.5" lengthAdjust="spacingAndGlyphs">NOAA / AOML /</tspan> <tspan x="263.3" font-size="13" font-weight="bold" textLength="202.4" lengthAdjust="spacingAndGlyphs">Hurricane Research Division</tspan></text>
</svg>
</body></html>
